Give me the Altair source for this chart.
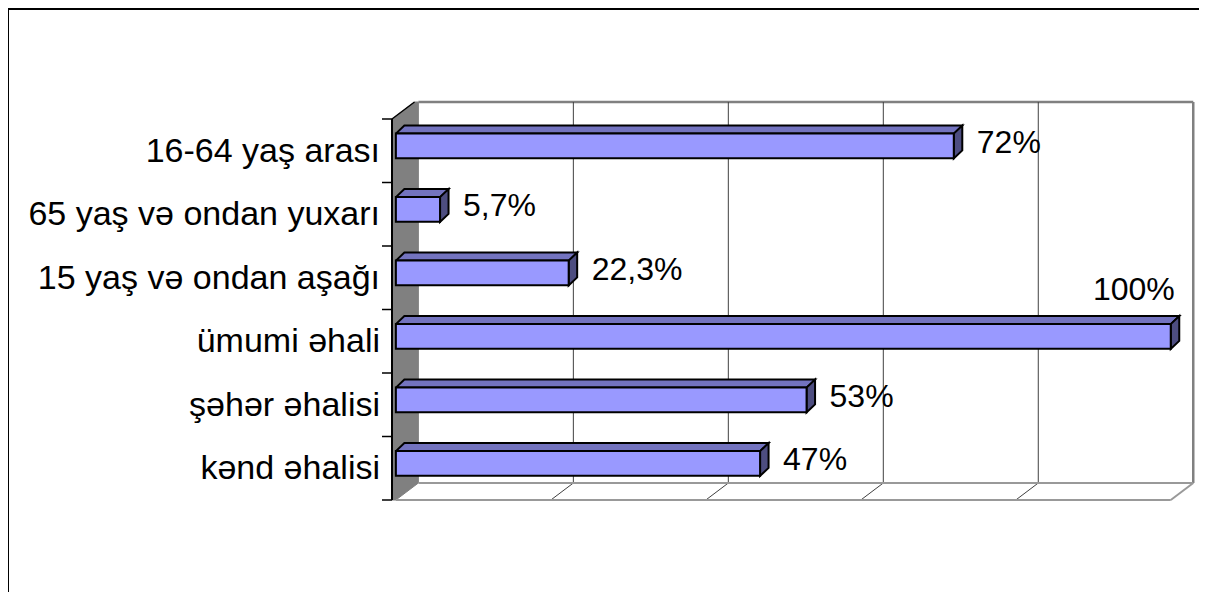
import altair as alt
import pandas as pd

# ---------------- data ----------------
categories = ["16-64 yaş arası", "65 yaş və ondan yuxarı", "15 yaş və ondan aşağı",
              "ümumi əhali", "şəhər əhalisi", "kənd əhalisi"]
values = [72, 5.7, 22.3, 100, 53, 47]
value_labels = ["72%", "5,7%", "22,3%", "100%", "53%", "47%"]
grid_values = [0, 20, 40, 60, 80, 100]

# ---------------- geometry helpers ----------------
W, H = 802, 381
X_MIN, X_MAX = -0.5, 103.0
N = len(categories)
KX = W / (X_MAX - X_MIN)          # px per x unit
KY = H / N                         # px per row
WDX, WDY = 22.5 / KX, 17 / KY      # depth of walls / floor
BDX, BDY = 8.5 / KX, 8 / KY        # depth of bars
TICK = 10 / KX                     # tick length
BAR_LO, BAR_HI = 0.38, 0.77
FONT = "Liberation Sans"

FRONT, TOP, SIDE = "#9999FF", "#7373BF", "#4D4D80"
GRAY = "#808080"

xs = alt.Scale(domain=[X_MIN, X_MAX], nice=False, zero=False)
ys = alt.Scale(domain=[0, N], nice=False, zero=False)

# bars table
rows = []
for i, (c, v, lab) in enumerate(zip(categories, values, value_labels)):
    k = N - 1 - i
    rows.append(dict(cat=c, v=v, lab=lab, zero=0, xmin=X_MIN, y0=k + BAR_LO, y1=k + BAR_HI,
                     yc=k + (BAR_LO + BAR_HI) / 2, ymid=k + 0.5))
bars = pd.DataFrame(rows)

# 3D faces of bars (polygons)
top_pts, side_pts = [], []
for r in rows:
    v, b, t = r["v"], r["y0"], r["y1"]
    poly_top = [(0, t), (BDX, t + BDY), (v + BDX, t + BDY), (v, t), (0, t)]
    poly_side = [(v, t), (v + BDX, t + BDY), (v + BDX, b + BDY), (v, b), (v, t)]
    for o, (x, y) in enumerate(poly_top):
        top_pts.append(dict(pid=r["cat"], o=o, x=x, y=y))
    for o, (x, y) in enumerate(poly_side):
        side_pts.append(dict(pid=r["cat"], o=o, x=x, y=y))
top_df = pd.DataFrame(top_pts)
side_df = pd.DataFrame(side_pts)

# left wall polygon
wall = [(X_MIN, 0), (X_MIN, N), (X_MIN + WDX, N + WDY), (WDX, N + WDY), (WDX, WDY), (0, 0), (X_MIN, 0)]
wall_df = pd.DataFrame([dict(o=o, x=x, y=y) for o, (x, y) in enumerate(wall)])

gmax = grid_values[-1]
segs = [
    dict(x=WDX, y=N + WDY, x2=gmax + WDX, y2=N + WDY, kind="edge"),
    dict(x=gmax + WDX, y=WDY, x2=gmax + WDX, y2=N + WDY, kind="edge"),
    dict(x=WDX, y=WDY, x2=gmax + WDX, y2=WDY, kind="floor"),
    dict(x=0, y=0, x2=gmax, y2=0, kind="floor"),
    dict(x=gmax, y=0, x2=gmax + WDX, y2=WDY, kind="floor"),
    dict(x=X_MIN, y=N, x2=X_MIN + WDX, y2=N + WDY, kind="slant"),
    dict(x=X_MIN, y=0, x2=X_MIN, y2=N, kind="domain"),
]
for g in grid_values[1:-1]:
    segs.append(dict(x=g + WDX, y=WDY, x2=g + WDX, y2=N + WDY, kind="grid"))
    segs.append(dict(x=g, y=0, x2=g + WDX, y2=WDY, kind="grid"))
for j in range(N + 1):
    segs.append(dict(x=X_MIN - TICK, y=j, x2=X_MIN, y2=j, kind="tick"))
segs_df = pd.DataFrame(segs)

# ---------------- layers ----------------
border = alt.Chart(alt.Data(values=[{}])).mark_rect(
    filled=False, stroke="black", strokeWidth=2
).encode(x=alt.value(-384), x2=alt.value(W + 200), y=alt.value(-110), y2=alt.value(H + 300))

wall_layer = alt.Chart(wall_df).mark_line(fill=GRAY, stroke=GRAY, strokeWidth=1).encode(
    x=alt.X("x:Q", scale=xs, axis=None), y=alt.Y("y:Q", scale=ys, axis=None), order="o:Q")


def seg_layer(kind, color, width):
    return alt.Chart(segs_df[segs_df.kind == kind]).mark_rule(color=color, strokeWidth=width).encode(
        x=alt.X("x:Q", scale=xs, axis=None), y=alt.Y("y:Q", scale=ys, axis=None),
        x2="x2:Q", y2="y2:Q")


edges = seg_layer("edge", GRAY, 2.5)
floor = seg_layer("floor", "#999999", 2)
grid = seg_layer("grid", "#404040", 1)
slant = seg_layer("slant", "black", 1.5)
domain = seg_layer("domain", "black", 2)
ticks = seg_layer("tick", "black", 1.5)

top_layer = alt.Chart(top_df).mark_line(fill=TOP, stroke="black", strokeWidth=2, strokeJoin="miter").encode(
    x=alt.X("x:Q", scale=xs, axis=None), y=alt.Y("y:Q", scale=ys, axis=None),
    order="o:Q", detail="pid:N")
side_layer = alt.Chart(side_df).mark_line(fill=SIDE, stroke="black", strokeWidth=2, strokeJoin="miter").encode(
    x=alt.X("x:Q", scale=xs, axis=None), y=alt.Y("y:Q", scale=ys, axis=None),
    order="o:Q", detail="pid:N")

front = alt.Chart(bars).mark_rect(fill=FRONT, stroke="black", strokeWidth=2).encode(
    x=alt.X("zero:Q", scale=xs, axis=None), x2="v:Q",
    y=alt.Y("y0:Q", scale=ys, axis=None), y2="y1:Q")

cat_text = alt.Chart(bars).mark_text(
    align="right", baseline="middle", dx=-12, dy=1, fontSize=34, font=FONT, color="black"
).encode(x=alt.X("xmin:Q", scale=xs, axis=None), y=alt.Y("ymid:Q", scale=ys, axis=None), text="cat:N")

text_main = alt.Chart(bars).transform_filter("datum.v < 100").mark_text(
    align="left", baseline="middle", dx=23, dy=-3, fontSize=32, font=FONT, color="black"
).encode(x=alt.X("v:Q", scale=xs, axis=None), y=alt.Y("yc:Q", scale=ys, axis=None), text="lab:N")

text_full = alt.Chart(bars).transform_filter("datum.v >= 100").mark_text(
    align="right", baseline="middle", dx=4, dy=-46, fontSize=32, font=FONT, color="black"
).encode(x=alt.X("v:Q", scale=xs, axis=None), y=alt.Y("yc:Q", scale=ys, axis=None), text="lab:N")

chart = alt.layer(
    border, wall_layer, edges, grid, floor, slant, domain, ticks,
    top_layer, side_layer, front, cat_text, text_main, text_full
).properties(
    width=W, height=H,
    padding={"left": 384, "top": 111, "right": 5, "bottom": 92},
    autosize=alt.AutoSizeParams(type="none"),
).configure_view(strokeWidth=0)

chart.save("out.html", embed_options={"renderer": "svg", "actions": False})
